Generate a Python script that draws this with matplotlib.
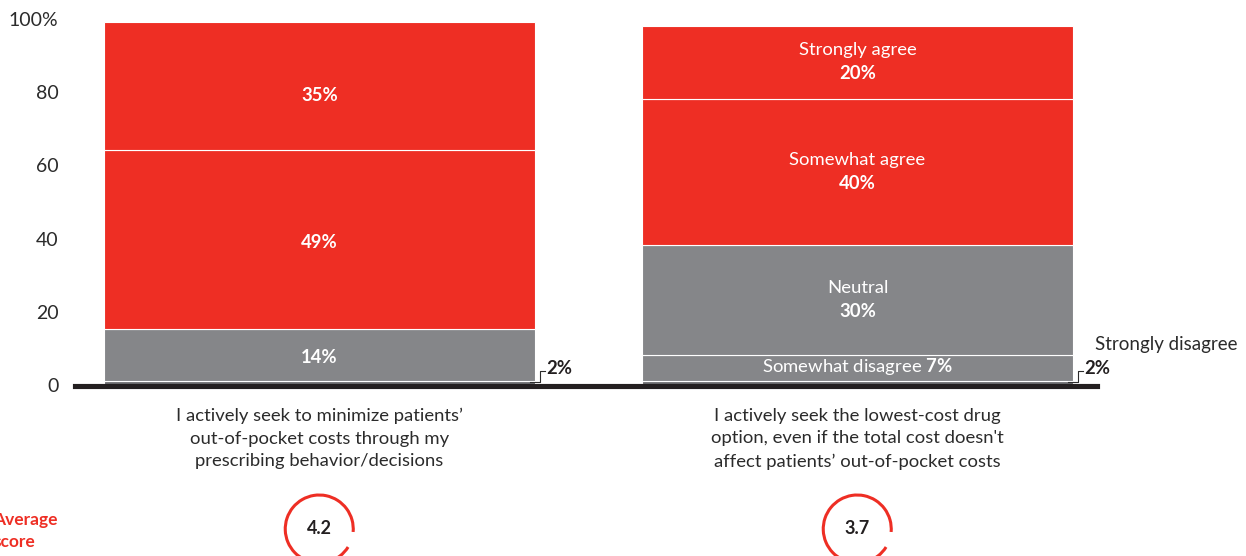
import matplotlib
matplotlib.use("Agg")
import matplotlib.pyplot as plt
import matplotlib.transforms as mtransforms
from matplotlib.patches import Arc

plt.rcParams['font.family'] = ['Lato', 'DejaVu Sans']
plt.rcParams['mathtext.fontset'] = 'custom'
plt.rcParams['mathtext.rm'] = 'Lato'
plt.rcParams['mathtext.bf'] = 'Lato:bold'

# data, bottom to top
categories = ["I actively seek to minimize patients\u2019\nout-of-pocket costs through my\nprescribing behavior/decisions",
              "I actively seek the lowest-cost drug\noption, even if the total cost doesn't\naffect patients\u2019 out-of-pocket costs"]
levels = ["Strongly disagree", "Somewhat disagree", "Neutral", "Somewhat agree", "Strongly agree"]
bar1 = [2, 0, 14, 49, 35]
bar2 = [2, 7, 30, 40, 20]
avg_scores = ["4.2", "3.7"]
yticks = [0, 20, 40, 60, 80, 100]
ytick_labels = ["0", "20", "40", "60", "80", "100%"]

RED = '#ee2e24'
GRAY = '#858689'
DGRAY = '#6d6e71'
TXT = '#2b2b2b'
colors = [DGRAY, GRAY, GRAY, RED, RED]

W, H = 1246, 556
fig = plt.figure(figsize=(W / 100, H / 100), dpi=100)
# 100 -> 22px, 0 -> 388px
ax = fig.add_axes([75 / W, 1 - 391.66 / H, 1022 / W, 369.66 / H])
ax.set_xlim(-0.454, 1.445)
ax.set_ylim(-1, 100)
width = 0.80

for i, vals in enumerate([bar1, bar2]):
    bottom = 0
    for v, c in zip(vals, colors):
        if v > 0:
            ax.bar(i, v, width, bottom=bottom, color=c, edgecolor='white', linewidth=0.8, zorder=2)
        bottom += v

# thick baseline over the bar feet
ax.axhline(0.68, xmin=0, xmax=1, color='#231f20', lw=3.7, zorder=3, clip_on=False)

for s in ax.spines.values():
    s.set_visible(False)
ax.set_xticks([])
ax.set_yticks(yticks)
ax.set_yticklabels(ytick_labels, fontsize=14, color=TXT)
ax.tick_params(axis='y', length=0, pad=12)
up = mtransforms.ScaledTranslation(0, 3 / 100, fig.dpi_scale_trans)
for lab in ax.get_yticklabels():
    lab.set_transform(lab.get_transform() + up)

def centers(vals):
    out, b = [], 0
    for v in vals:
        out.append(b + v / 2)
        b += v
    return out

# left bar labels (percent only)
c1 = centers(bar1)
for k, off in zip([2, 3, 4], [-0.8, -0.8, -2.5]):
    ax.text(0, c1[k] + off, f"{bar1[k]}%", ha='center', va='center', color='white',
            fontsize=13.3, fontweight='bold')

# right bar labels (name + percent)
c2 = centers(bar2)
for k in [2, 3, 4]:
    ax.text(1, c2[k] + 3.3, levels[k], ha='center', va='center', color='white', fontsize=13.3)
    ax.text(1, c2[k] - 3.2, f"{bar2[k]}%", ha='center', va='center', color='white',
            fontsize=13.3, fontweight='bold')
ax.text(1, c2[1] + 0.5, levels[1] + " $\\mathbf{" + str(bar2[1]) + "\\%}$", ha='center', va='center',
        color='white', fontsize=13.3)

# 2% callouts
for i, vals in enumerate([bar1, bar2]):
    x0 = i + width / 2 - 0.009
    ax.plot([x0, x0 + 0.019, x0 + 0.019, x0 + 0.028], [1.6, 1.6, 4.6, 4.6],
            color=TXT, lw=0.8, clip_on=False, zorder=4)
    ax.text(x0 + 0.030, 5.4, f"{vals[0]}%", ha='left', va='center', color='#231f20',
            fontsize=13.3, fontweight='bold', clip_on=False)
ax.text(1 + width / 2 + 0.041, 12.0, levels[0], ha='left', va='center', color=TXT,
        fontsize=13.5, clip_on=False)

# category labels and score circles
for i, cat in enumerate(categories):
    cx = 75 + (i + 0.454) * 538
    fig.text(cx / W, 1 - 408 / H, cat, ha='center', va='top', fontsize=13.3, color=TXT,
             linespacing=1.5)
    cy, r = H - 529, 34
    arc = Arc((cx, cy), 2 * r, 2 * r, theta1=-5, theta2=328, color=RED, lw=2.2,
              transform=None)
    fig.add_artist(arc)
    fig.text(cx / W, cy / H, avg_scores[i], ha='center', va='center', fontsize=13,
             fontweight='bold', color='#231f20')

fig.text(58 / W, 1 - 531 / H, "Average\nscore", ha='right', va='center', multialignment='left',
         color=RED, fontsize=12.5, fontweight='bold', linespacing=1.45)

fig.savefig("out.png", dpi=100)
